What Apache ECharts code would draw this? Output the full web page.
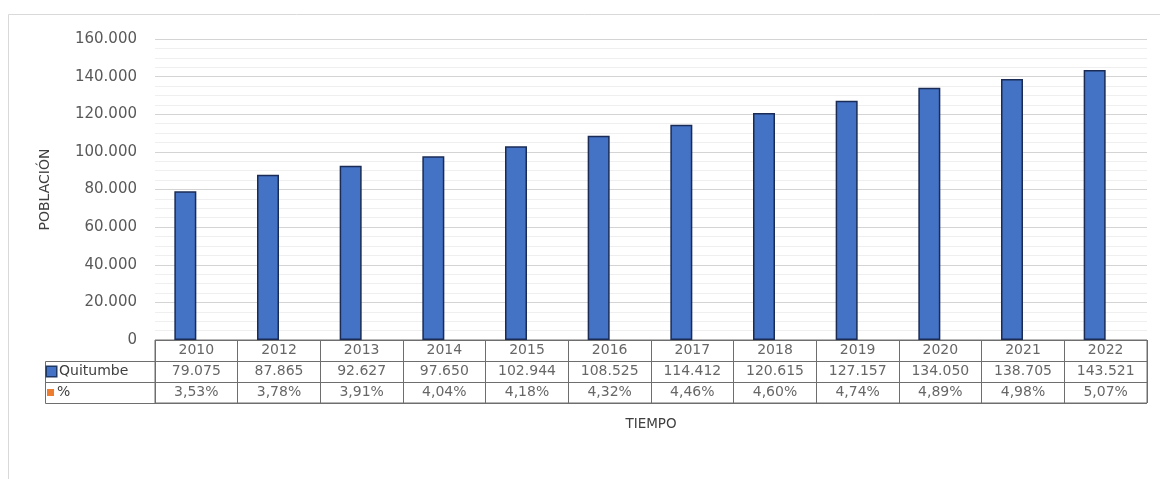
<!DOCTYPE html>
<html>
<head>
<meta charset="utf-8">
<script src="https://cdn.jsdelivr.net/npm/echarts@6/dist/echarts.min.js"></script>
<style>
  html, body { margin: 0; padding: 0; background: #ffffff; }
  #chart { width: 1160px; height: 479px; }
</style>
</head>
<body>
<div id="chart"></div>
<script>
// ---- data ----
const years = ['2010','2012','2013','2014','2015','2016','2017','2018','2019','2020','2021','2022'];
const quitumbe = [79075, 87865, 92627, 97650, 102944, 108525, 114412, 120615, 127157, 134050, 138705, 143521];
const pct = [3.53, 3.78, 3.91, 4.04, 4.18, 4.32, 4.46, 4.60, 4.74, 4.89, 4.98, 5.07];
const yTicks = [0, 20000, 40000, 60000, 80000, 100000, 120000, 140000, 160000];
const seriesNames = ['Quitumbe', '%'];

// ---- helpers ----
function thousands(v) { return String(v).replace(/\B(?=(\d{3})+(?!\d))/g, '.'); }
function pctFmt(v) { return v.toFixed(2).replace('.', ',') + '%'; }

const FONT = 'DejaVu Sans';
const TXT = '#404040';

const tableData = [];
years.forEach((y, i) => {
  tableData.push({ value: [i, 0], label: { formatter: y } });
  tableData.push({ value: [i, 1], label: { formatter: thousands(quitumbe[i]) } });
  tableData.push({ value: [i, 2], label: { formatter: pctFmt(pct[i]) } });
});

const chart = echarts.init(document.getElementById('chart'), null, { renderer: 'canvas' });
const option = {
  animation: false,
  backgroundColor: '#ffffff',
  textStyle: { fontFamily: FONT },
  grid: [
    { left: 155, right: 13, top: 39, height: 301 },
    { left: 155, right: 13, top: 340, height: 63, show: true, borderColor: '#6e6e6e', borderWidth: 1, backgroundColor: 'transparent' }
  ],
  xAxis: [
    { type: 'category', data: years, gridIndex: 0, axisLine: { show: false }, axisTick: { show: false }, axisLabel: { show: false } },
    { type: 'category', data: years, gridIndex: 1, boundaryGap: true,
      axisLine: { show: false }, axisTick: { show: false }, axisLabel: { show: false },
      splitLine: { show: true, lineStyle: { color: '#6e6e6e', width: 1 } },
      name: 'TIEMPO', nameLocation: 'middle', nameGap: 14,
      nameTextStyle: { color: TXT, fontSize: 13.5, fontFamily: FONT } }
  ],
  yAxis: [
    { type: 'value', gridIndex: 0, min: yTicks[0], max: yTicks[yTicks.length - 1], interval: yTicks[1] - yTicks[0],
      axisLine: { show: false }, axisTick: { show: false },
      axisLabel: { color: '#595959', fontSize: 15, fontFamily: FONT, margin: 18, formatter: v => thousands(v) },
      splitLine: { show: true, lineStyle: { color: '#d4d4d4', width: 1 } },
      minorTick: { show: false, splitNumber: 4 },
      minorSplitLine: { show: true, lineStyle: { color: '#efefef', width: 1 } },
      name: 'POBLACIÓN', nameLocation: 'middle', nameRotate: 90, nameGap: 103,
      nameTextStyle: { color: TXT, fontSize: 14, fontFamily: FONT } },
    { type: 'category', gridIndex: 1, data: ['', seriesNames[0], seriesNames[1]], inverse: true,
      axisLine: { show: false }, axisTick: { show: false },
      splitLine: { show: true, lineStyle: { color: '#6e6e6e', width: 1 } },
      axisLabel: {
        align: 'left', margin: 108, color: TXT, fontSize: 14, fontFamily: FONT,
        formatter: (v, i) => i === 1 ? '{a|}{t|' + v + '}' : (i === 2 ? '{b|}{t|' + v + '}' : ''),
        rich: {
          a: { width: 9, height: 9, backgroundColor: '#4472C4', borderColor: '#1F3864', borderWidth: 1.5 },
          b: { width: 7, height: 7, backgroundColor: '#ED7D31' },
          t: { color: TXT, fontSize: 14, fontFamily: FONT, padding: [0, 0, 0, 3] }
        }
      } }
  ],
  series: [
    { name: seriesNames[0], type: 'bar', xAxisIndex: 0, yAxisIndex: 0, data: quitumbe, barWidth: 22, barGap: '0%',
      itemStyle: { color: '#4472C4', borderColor: '#1a2b55', borderWidth: 1.5 } },
    { name: seriesNames[1], type: 'bar', xAxisIndex: 0, yAxisIndex: 0, data: pct, barWidth: 22,
      itemStyle: { color: '#ED7D31' } },
    { type: 'scatter', xAxisIndex: 1, yAxisIndex: 1, symbolSize: 0, data: tableData, silent: true,
      label: { show: true, position: 'inside', color: TXT, fontSize: 14, fontFamily: FONT } }
  ]
};
chart.setOption(option);

// legend-key column borders and outer chart frame
const rowH = 63 / 3;
const yTop = 340 + rowH;
const yBot = 340 + 63;
chart.setOption({
  graphic: [
    { type: 'rect', shape: { x: 8.5, y: 14.5, width: 1170, height: 480 }, style: { fill: 'none', stroke: '#d9d9d9', lineWidth: 1 }, silent: true },
    { type: 'rect', shape: { x: 45.5, y: Math.round(yTop) + 0.5, width: 110, height: Math.round(yBot - yTop) }, style: { fill: 'none', stroke: '#6e6e6e', lineWidth: 1 }, silent: true },
    { type: 'line', shape: { x1: 45.5, y1: Math.round(yTop + rowH) + 0.5, x2: 155, y2: Math.round(yTop + rowH) + 0.5 }, style: { stroke: '#6e6e6e', lineWidth: 1 }, silent: true }
  ]
});
</script>
</body>
</html>
